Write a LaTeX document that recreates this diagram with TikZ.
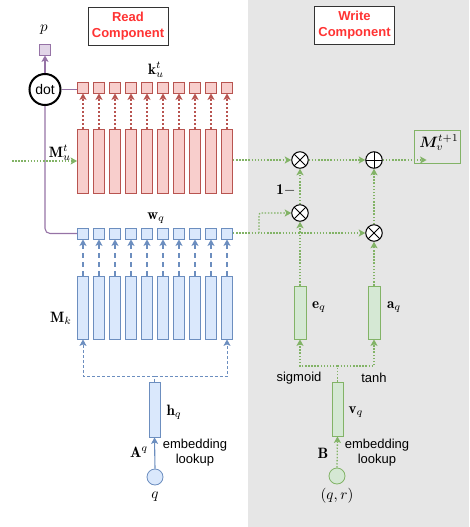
\documentclass[tikz,border=0pt]{standalone}
\usepackage{amsmath}
\usepackage{bm}
\usepackage{fontspec}
\setsansfont{Liberation Sans}
\usetikzlibrary{arrows.meta,calc}
\definecolor{bgGray}{HTML}{E6E6E6}
\definecolor{redFill}{HTML}{F8CECC}
\definecolor{redLine}{HTML}{B85450}
\definecolor{blueFill}{HTML}{DAE8FC}
\definecolor{blueLine}{HTML}{6C8EBF}
\definecolor{greenFill}{HTML}{D5E8D4}
\definecolor{greenLine}{HTML}{82B366}
\definecolor{purpFill}{HTML}{E1D5E7}
\definecolor{purpLine}{HTML}{9673A6}
\definecolor{titleRed}{HTML}{FF3333}
\newcommand{\mlx}[1]{\scalebox{1.5}{#1}}
\begin{document}
\begin{tikzpicture}[x=1pt,y=-1pt,
  tip/.style={-{Stealth[width=7pt,length=6.5pt,inset=1.5pt]}},
  titlebox/.style={draw=black!80,line width=0.9pt,fill=white,minimum width=80pt,minimum height=38pt,align=center,
    font=\fontsize{13}{16}\selectfont\sffamily\bfseries,text=titleRed,inner sep=0pt},
  redsq/.style={draw=redLine,fill=redFill,line width=0.8pt,minimum width=11pt,minimum height=11pt,inner sep=0pt},
  redbar/.style={draw=redLine,fill=redFill,line width=0.8pt,minimum width=11pt,minimum height=64pt,inner sep=0pt},
  bluesq/.style={draw=blueLine,fill=blueFill,line width=0.8pt,minimum width=11pt,minimum height=11pt,inner sep=0pt},
  bluebar/.style={draw=blueLine,fill=blueFill,line width=0.8pt,minimum width=11pt,minimum height=63pt,inner sep=0pt},
  greenbar/.style={draw=greenLine,fill=greenFill,line width=0.8pt,minimum width=11pt,inner sep=0pt},
  redarr/.style={tip,draw=redLine,line width=1.3pt,dash pattern=on 1.5pt off 2.5pt},
  bluearr/.style={tip,draw=blueLine,line width=1.3pt,dash pattern=on 5pt off 4pt},
  bluedash/.style={draw=blueLine,line width=0.9pt,dash pattern=on 3pt off 2pt},
  greendot/.style={draw=greenLine,line width=1.3pt,dash pattern=on 1.5pt off 1.6pt},
  greenarr/.style={greendot,tip},
  purp/.style={draw=purpLine,line width=1.1pt},
  mlab/.style={inner sep=0pt},
  tlab/.style={font=\fontsize{13}{16}\selectfont\sffamily,inner sep=0pt,align=center},
  opcirc/.style={circle,draw=black,fill=white,line width=1pt,minimum size=16.5pt,inner sep=0pt},
  otimesop/.style={opcirc,path picture={
     \draw[black,line width=1pt] (path picture bounding box.north west) -- (path picture bounding box.south east)
       (path picture bounding box.north east) -- (path picture bounding box.south west);}},
  oplusop/.style={opcirc,path picture={
     \draw[black,line width=1pt] (path picture bounding box.north) -- (path picture bounding box.south)
       (path picture bounding box.east) -- (path picture bounding box.west);}}
]
\useasboundingbox (0,0) rectangle (469,527);
\fill[bgGray] (248,0) rectangle (469,527);

% titles
\node[titlebox] (readt) at (128,26) {Read\\Component};
\node[titlebox] (writet) at (354.5,25.5) {Write\\Component};

% read component columns
\foreach \i in {0,...,9}{
  \node[redsq] (ksq\i) at (83+16*\i,87.5) {};
  \node[redbar] (mv\i) at (83+16*\i,161) {};
  \draw[redarr] (mv\i.north) -- (ksq\i.south);
  \node[bluesq] (wsq\i) at (83+16*\i,233.5) {};
  \node[bluebar] (mk\i) at (83+16*\i,307.5) {};
  \draw[bluearr] (mk\i.north) -- (wsq\i.south);
}
\node[mlab] (klab) at (156,70) {\mlx{$\mathbf{k}_u^t$}};
\node[mlab] (wlab) at (156,218) {\mlx{$\mathbf{w}_q$}};
\node[mlab] (mklab) at (61,318) {\mlx{$\mathbf{M}_k$}};

% dot and p
\node[circle,draw=black,line width=2pt,fill=white,minimum size=31pt,inner sep=0pt,
      font=\fontsize{14}{16}\selectfont\sffamily] (dot) at (45,89.5) {dot};
\node[draw=purpLine,fill=purpFill,line width=0.8pt,minimum width=11pt,minimum height=11pt,inner sep=0pt] (psq) at (45,49.5) {};
\node[mlab] (plab) at (44,30) {\mlx{$p$}};
\draw[purp,tip] (dot.north) -- (psq.south);
\draw[purp] (dot.east) -- (dot.east -| ksq0.west);
\draw[purp,rounded corners=5pt] (dot.south) |- (wsq0.west);

\node[mlab] (mvlab) at (60,153) {\mlx{$\mathbf{M}_u^t$}};
\coordinate (inM) at (12,161);
\draw[greenarr] (inM) -- (mv0.west);

% hq / q
\node[bluebar,minimum height=55pt] (hq) at (154.5,409.5) {};
\coordinate (hb) at (154.5,376);
\draw[bluedash] (hq.north) -- (hb);
\draw[bluedash,tip] (hb) -| (mk0.south);
\draw[bluedash,tip] (hb) -| (mk9.south);
\node[mlab] (hlab) at (174,412) {\mlx{$\mathbf{h}_q$}};
\node[mlab] (alab) at (139,452) {\mlx{$\mathbf{A}^q$}};
\node[tlab] (emb1) at (195,453) {embedding\\[-1pt]lookup};
\node[circle,draw=blueLine,fill=blueFill,line width=0.8pt,minimum size=16pt,inner sep=0pt] (qc) at (155,477) {};
\node[mlab] (qlab) at (155,497) {\mlx{$q$}};
\draw[draw=blueLine,line width=1.1pt,tip] (qc.north) -- (hq.south);

% write component
\node[otimesop] (ot1) at (300,160) {};
\node[oplusop] (op) at (374,160) {};
\node[otimesop] (ot2) at (300,213) {};
\node[otimesop] (ot3) at (374,233) {};
\node[draw=greenLine,line width=0.8pt,minimum width=46pt,minimum height=33pt,inner sep=0pt] (mnew) at (437,146.5) {};
\node[mlab] (mnewlab) at (439,143) {\mlx{$\bm{M}_v^{t+1}$}};

\draw[greenarr] (mv9.east |- ot1.west) -- (ot1.west);
\draw[greenarr] (ot1.east) -- (op.west);
\draw[greenarr] (op.east) -- ([xshift=13pt]op.east -| mnew.west);
\draw[greenarr] (ot2.north) -- (ot1.south);
\draw[greenarr] (ot3.north) -- (op.south);
\node[mlab] (onelab) at (286,190) {\mlx{$\mathbf{1}-$}};

\draw[greenarr] (wsq9.east |- ot3.west) -- (ot3.west);
\coordinate (wb) at (259,233);
\draw[greenarr,rounded corners=2pt] (wb) |- (ot2.west);

\node[greenbar,minimum height=53pt,minimum width=12pt] (eq) at (300,312.5) {};
\node[greenbar,minimum height=53pt,minimum width=12pt] (aq) at (374,312.5) {};
\node[mlab] (eqlab) at (319,307) {\mlx{$\mathbf{e}_q$}};
\node[mlab] (aqlab) at (394,307) {\mlx{$\mathbf{a}_q$}};
\draw[greenarr] (eq.north) -- (ot2.south);
\draw[greenarr] (aq.north) -- (ot3.south);

\node[greenbar,minimum height=54pt] (vq) at (337.5,409) {};
\coordinate (vb) at (337.5,366);
\draw[greendot] (vq.north) -- (vb);
\draw[greenarr] (vb) -| (eq.south);
\draw[greenarr] (vb) -| (aq.south);
\node[tlab] (sig) at (299,378) {sigmoid};
\node[tlab] (tanh) at (374,378) {tanh};
\node[mlab] (vqlab) at (356,412) {\mlx{$\mathbf{v}_q$}};
\node[mlab] (blab) at (323,453) {\mlx{$\mathbf{B}$}};
\node[tlab] (emb2) at (377,453) {embedding\\[-1pt]lookup};
\node[circle,draw=greenLine,fill=greenFill,line width=0.8pt,minimum size=16pt,inner sep=0pt] (qr) at (337,476) {};
\node[mlab] (qrlab) at (337,496) {\mlx{$(q,r)$}};
\draw[greenarr] (qr.north) -- (vq.south);
\end{tikzpicture}
\end{document}
